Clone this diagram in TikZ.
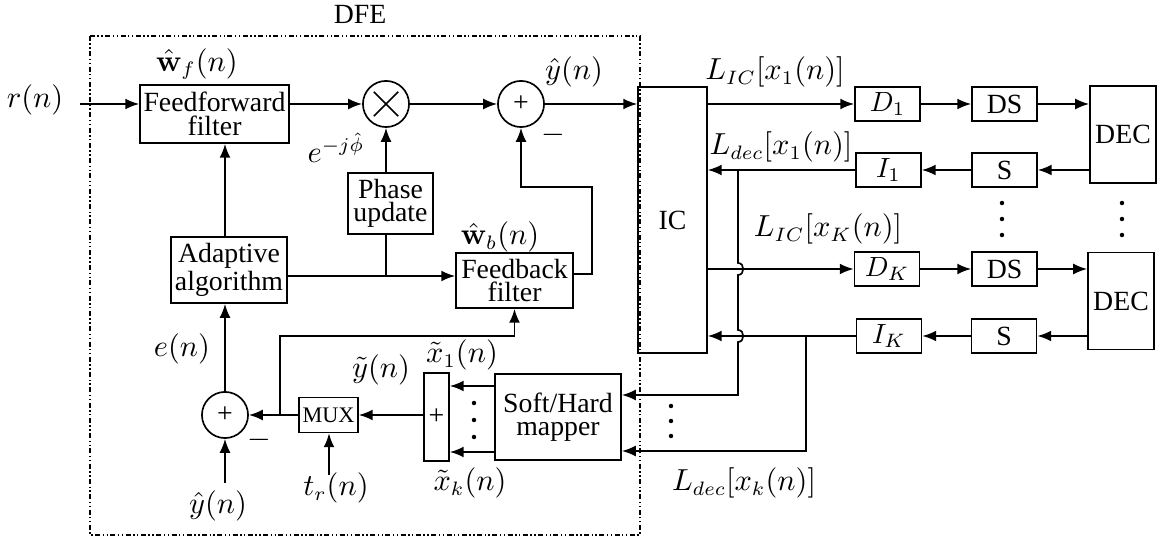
\documentclass[tikz,border=0pt]{standalone}
\usepackage[no-math]{fontspec}
\setmainfont{Liberation Serif}
\usetikzlibrary{arrows.meta,calc}
\begin{document}
\begin{tikzpicture}[x=0.36pt,y=-0.36pt,
 line width=0.6pt,
 arr/.style={-{Latex[length=5pt,width=3.9pt]}},
 blk/.style={draw,rectangle,inner sep=0pt,align=center,font=\fontsize{10}{8.4}\selectfont},
 sb/.style={blk,minimum width=23.4pt,minimum height=12.4pt},
 decb/.style={blk,minimum width=23.8pt,minimum height=34.9pt},
 circ/.style={draw,circle,minimum size=16.6pt,inner sep=0pt,font=\fontsize{10}{10}\selectfont},
 lab/.style={font=\fontsize{10.5}{12}\selectfont,inner sep=0pt},
 dfe/.style={line width=0.5pt,dash pattern=on 1.8pt off 0.9pt on 0.5pt off 0.9pt on 0.5pt off 0.9pt},
 dotc/.style={circle,fill,inner sep=0pt,minimum size=1.6pt}
]
\useasboundingbox (0,0) rectangle (1170,540);

% DFE frame
\draw[dfe] (90,36) rectangle (640,535);
\node[font=\fontsize{10}{12}\selectfont] (dfelab) at (360,14) {DFE};

% blocks
\node[blk,minimum width=53.6pt,minimum height=20.9pt] (ff) at (214.5,114) {Feedforward\\filter};
\node[blk,minimum width=41.8pt,minimum height=23.8pt] (adapt) at (229,270) {Adaptive\\algorithm};
\node[blk,minimum width=30.6pt,minimum height=22pt] (phase) at (390.5,203.5) {Phase\\update};
\node[blk,minimum width=42.1pt,minimum height=19.8pt] (fb) at (514.5,280.5) {Feedback\\filter};
\node[blk,minimum width=21.2pt,minimum height=12.6pt,font=\fontsize{8}{9}\selectfont] (mux) at (328.5,415) {MUX};
\node[blk,minimum width=9pt,minimum height=31.7pt] (bar) at (436.5,417) {+};
\node[blk,minimum width=45.4pt,minimum height=31pt] (map) at (558,417) {Soft/Hard\\mapper};
\node[blk,minimum width=24.8pt,minimum height=95.8pt] (ic) at (672.5,220) {IC};

\node[sb] (d1) at (887.5,104) {$D_1$};
\node[sb] (ds1) at (1004.5,104) {DS};
\node[decb] (dec1) at (1123,134.5) {DEC};
\node[sb] (s1) at (1004.5,170) {S};
\node[sb] (i1) at (888.5,170) {$I_1$};
\node[sb] (dk) at (887,269) {$D_K$};
\node[sb] (dsk) at (1004.5,269) {DS};
\node[decb] (deck) at (1121,301) {DEC};
\node[sb] (sk) at (1004,336) {S};
\node[sb] (ik) at (889,336) {$I_K$};

% circles
\node[circ] (mult) at (386,104) {};
\draw ($(mult.center)!0.72!(mult.45)$) -- ($(mult.center)!0.72!(mult.225)$);
\draw ($(mult.center)!0.72!(mult.135)$) -- ($(mult.center)!0.72!(mult.-45)$);
\node[circ] (sum1) at (521,104) {+};
\node[circ] (sum2) at (225,415) {+};

% labels
\node[lab] (rlab) at (35,100) {$r(n)$};
\node[lab] (wf) at (197,64) {$\hat{\mathbf{w}}_f(n)$};
\node[lab] (ephi) at (336,148) {$e^{-j\hat{\phi}}$};
\node[lab] (yh1) at (574,72) {$\hat{y}(n)$};
\node[lab] (m1lab) at (553,135) {$-$};
\node[lab] (wb) at (500,237) {$\hat{\mathbf{w}}_b(n)$};
\node[lab] (elab) at (182,349) {$e(n)$};
\node[lab] (yh2) at (218,506) {$\hat{y}(n)$};
\node[lab] (m2lab) at (259,440) {$-$};
\node[lab] (trlab) at (336,488) {$t_r(n)$};
\node[lab] (ytl) at (381,370) {$\tilde{y}(n)$};
\node[lab] (x1l) at (462,355) {$\tilde{x}_1(n)$};
\node[lab] (xkl) at (470,483) {$\tilde{x}_k(n)$};
\node[lab] (lic1) at (775,72) {$L_{IC}[x_1(n)]$};
\node[lab] (ldec1) at (781,147) {$L_{dec}[x_1(n)]$};
\node[lab] (lick) at (828,229) {$L_{IC}[x_K(n)]$};
\node[lab] (ldeck) at (744,483) {$L_{dec}[x_k(n)]$};

% dots
\foreach \yy in {403,420,437} \node[dotc] at (474,\yy) {};
\foreach \yy in {406,421,436} \node[dotc] at (671,\yy) {};
\foreach \yy in {203,219,235} {\node[dotc] at (1002,\yy) {}; \node[dotc] at (1122,\yy) {};}

% forward path
\coordinate (rin) at (80,104);
\draw[arr] (rin) -- (ff.west |- rin);
\draw[arr] (ff.east |- mult) -- (mult);
\draw[arr] (mult) -- (sum1);
\draw[arr] (sum1) -- (ic.west |- sum1);
\draw[arr] (phase.north -| mult) -- (mult);

% adaptive outputs
\coordinate (jph) at (386,276);
\draw (adapt.east |- jph) -- (jph) -- (phase.south -| jph);
\draw[arr] (jph) -- (fb.west |- jph);
\draw[arr] (sum2 |- adapt.north) -- (sum2 |- ff.south);

% feedback filter output
\coordinate (fbo) at (592,274);
\coordinate (fbt) at (592,187);
\draw[arr] (fb.east |- fbo) -- (fbo) -- (fbt) -| (sum1.south);

% error path
\draw[arr] (sum2) -- (sum2 |- adapt.south);
\coordinate (yin) at (225,483);
\draw[arr] (yin) -- (sum2);
\draw[arr] (mux) -- (sum2);
\coordinate (j2) at (280,415);
\coordinate (j2t) at (280,336);
\draw[arr] (j2) -- (j2t) -| (fb.south);
\coordinate (trin) at (329,475);
\draw[arr] (trin) -- (trin |- mux.south);
\draw[arr] (bar.west |- mux) -- (mux);
\coordinate (mp1) at ($(map.west)+(0,-31)$);
\coordinate (mp2) at ($(map.west)+(0,35)$);
\draw[arr] (mp1) -- (bar.east |- mp1);
\draw[arr] (mp2) -- (bar.east |- mp2);

% IC rows
\draw[arr] (ic.east |- d1) -- (d1);
\draw[arr] (d1) -- (ds1);
\draw[arr] (ds1) -- (dec1.west |- ds1);
\draw[arr] (dec1.west |- s1) -- (s1);
\draw[arr] (s1) -- (i1);
\draw[arr] (i1) -- (ic.east |- i1);
\draw[arr] (ic.east |- dk) -- (dk);
\draw[arr] (dk) -- (dsk);
\draw[arr] (dsk) -- (deck.west |- dsk);
\draw[arr] (deck.west |- sk) -- (sk);
\draw[arr] (sk) -- (ik);
\draw[arr] (ik) -- (ic.east |- ik);

% feedback of decoder LLRs to mapper
\coordinate (ja) at (738,170);
\coordinate (jam) at (738,395);
\draw[arr] (ja) -- (738,263) .. controls (745,263) and (745,275) .. (738,275)
  -- (738,330) .. controls (745,330) and (745,342) .. (738,342)
  -- (jam) -- (map.east |- jam);
\coordinate (jb) at (806,336);
\coordinate (jbm) at (806,451);
\draw[arr] (jb) -- (jbm) -- (map.east |- jbm);
\end{tikzpicture}
\end{document}
